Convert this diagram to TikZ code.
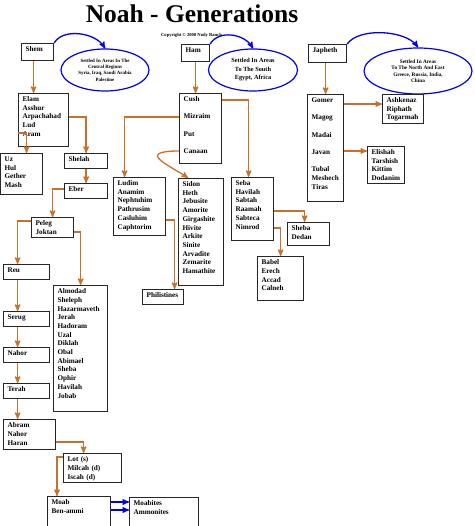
\documentclass[tikz,border=0pt]{standalone}
\usepackage{fontspec}
\setmainfont{Liberation Serif}
\usepackage{tikz}
\usetikzlibrary{arrows,shapes.geometric}
\definecolor{rust}{RGB}{198,114,44}
\definecolor{sky}{RGB}{0,0,235}

\begin{document}
\begin{tikzpicture}[x=1pt, y=1pt, >=stealth']
\useasboundingbox (0,0) rectangle (474,-526);
\tikzstyle{gen} = [draw=black!85, line width=1.2pt, fill=white, anchor=north west, align=left, inner xsep=4pt, inner ysep=2pt, text height=6pt, font=\fontsize{7.2}{8.7}\selectfont\bfseries]
\tikzstyle{area} = [ellipse, draw=sky, line width=1.2pt, fill=white, inner sep=0pt, align=center]
\tikzstyle{descent} = [->, draw=rust, line width=1.3pt]
\tikzstyle{region} = [->, draw=sky, line width=1.3pt]
\node[font=\fontsize{25.5}{28}\selectfont\bfseries, anchor=base] (title) at (192,-23) {Noah - Generations};
\node[font=\fontsize{4.6}{5}\selectfont\bfseries, anchor=base] (copyright) at (191.5,-36.5) {Copyright © 2000 Nody Ranch};
\node[gen, text width=24pt, text depth=7pt] (shem) at (21,-43) {Shem};
\node[gen, text width=20pt, text depth=7pt] (ham) at (181,-44) {Ham};
\node[gen, text width=30pt, text depth=8pt] (japheth) at (308,-44) {Japheth};
\node[area, minimum width=88pt, minimum height=42pt, font=\fontsize{4.9}{6.3}\selectfont\bfseries] (shemarea) at (105,-70) {Settled In Areas In The\\Central Regions\\Syria, Iraq, Saudi Arabia\\Palestine};
\node[area, minimum width=89pt, minimum height=42pt, font=\fontsize{6.3}{8.5}\selectfont\bfseries] (hamarea) at (253,-70) {Settled In Areas\\To The South\\Egypt, Africa};
\node[area, minimum width=108pt, minimum height=46pt, font=\fontsize{5.3}{6.5}\selectfont\bfseries] (japhetharea) at (418,-71) {Settled In Areas\\To The North And East\\Greece, Russia, India,\\China};
\node[gen, text width=42pt, text depth=43pt] (elam) at (18,-93) {Elam\\Asshur\\Arpachahad\\Lud\\Aram};
\node[gen, text width=34pt, text depth=31pt] (uz) at (0,-153) {Uz\\Hul\\Gether\\Mash};
\node[gen, text width=35pt, text depth=5pt] (shelah) at (64,-153) {Shelah};
\node[gen, text width=35pt, text depth=5pt] (eber) at (64,-183) {Eber};
\node[gen, text width=34pt, text depth=10pt] (peleg) at (31,-217) {Peleg\\Joktan};
\node[gen, text width=38pt, text depth=5pt] (reu) at (3,-264) {Reu};
\node[gen, text width=46pt, text depth=116pt] (almodad) at (53,-285) {Almodad\\Sheleph\\Hazarmaveth\\Jerah\\Hadoram\\Uzal\\Diklah\\Obal\\Abimael\\Sheba\\Ophir\\Havilah\\Jobab};
\node[gen, text width=38pt, text depth=5pt] (serug) at (3,-311) {Serug};
\node[gen, text width=38pt, text depth=5pt] (nahor) at (3,-347) {Nahor};
\node[gen, text width=38pt, text depth=5pt] (terah) at (3,-383) {Terah};
\node[gen, text width=44pt, text depth=20pt] (abram) at (3,-419) {Abram\\Nahor\\Haran};
\node[gen, text width=50pt, text depth=19pt] (lot) at (63,-453) {Lot (s)\\Milcah (d)\\Iscah (d)};
\node[gen, text width=55pt, text depth=22pt] (moab) at (47,-496) {Moab\\Ben-ammi};
\node[gen, text width=61pt, text depth=21pt] (moabites) at (129,-497) {Moabites\\Ammonites};
\node[gen, text width=34pt, text depth=60pt] (cush) at (179,-93) {Cush\\[8.6pt]Mizraim\\[8.6pt]Put\\[8.6pt]Canaan};
\node[gen, text width=44pt, text depth=48pt] (ludim) at (113,-177) {Ludim\\Anamim\\Nephtuhim\\Pathrusim\\Casluhim\\Caphtorim};
\node[gen, text width=37pt, text depth=97pt] (sidon) at (178,-178) {Sidon\\Heth\\Jebusite\\Amorite\\Girgashite\\Hivite\\Arkite\\Sinite\\Arvadite\\Zemarite\\Hamathite};
\node[gen, text width=33pt, text depth=5pt] (philistines) at (142,-289) {Philistines};
\node[gen, text width=34pt, text depth=53pt] (seba) at (231,-177) {Seba\\Havilah\\Sabtah\\Raamah\\Sabteca\\Nimrod};
\node[gen, text width=34pt, text depth=13pt] (sheba) at (287,-222) {Sheba\\Dedan};
\node[gen, text width=38pt, text depth=34pt] (babel) at (257,-256) {Babel\\Erech\\Accad\\Calneh};
\node[gen, text width=28pt, text depth=97pt] (gomer) at (307,-94) {Gomer\\[8.6pt]Magog\\[8.6pt]Madai\\[8.6pt]Javan\\[8.6pt]Tubal\\Meshech\\Tiras};
\node[gen, text width=33pt, text depth=19pt] (ashkenaz) at (382,-94) {Ashkenaz\\Riphath\\Togarmah};
\node[gen, text width=29pt, text depth=27pt] (elishah) at (367,-146) {Elishah\\Tarshish\\Kittim\\Dodanim};
\draw[region] (shem.north east) to[out=60, in=120, looseness=0.9] (shemarea.north);
\draw[region] (ham.north east) to[out=60, in=120] (hamarea.north);
\draw[region] (japheth.north east) to[out=55, in=125, looseness=0.75] (japhetharea.north);
\draw[descent] ([xshift=-4]shem.south) -- ([xshift=-10]elam.north);
\draw[descent] (ham.south) -- (ham.south |- cush.north);
\draw[descent] (gomer.north |- japheth.south) -- (gomer.north);
\draw[descent] ([yshift=-40]elam.north west) -| ([xshift=5]uz.north);
\draw[descent] ([yshift=-24]elam.north east) -| (shelah.north);
\draw[descent] (shelah) -- (eber);
\draw[descent] ([yshift=-6]eber.north west) -| (peleg.north);
\draw[descent] ([yshift=-4]peleg.north west) -| ([xshift=-9]reu.north);
\draw[descent] ([yshift=-15]peleg.north east) -| (almodad.north);
\draw[descent] ([xshift=-9]reu.south) -- ([xshift=-9]serug.north);
\draw[descent] ([xshift=-9]serug.south) -- ([xshift=-9]nahor.north);
\draw[descent] ([xshift=-9]nahor.south) -- ([xshift=-9]terah.north);
\draw[descent] ([xshift=-9]terah.south) -- ([xshift=-12]abram.north);
\draw[descent] ([yshift=-23]abram.north east) -| ([xshift=-9]lot.north);
\draw[descent] ([yshift=-4]lot.north west) -| ([xshift=10]moab.north west);
\draw[region] ([yshift=-6]moab.north east) -- ([yshift=-5]moabites.north west);
\draw[region] ([yshift=-14]moab.north east) -- ([yshift=-13]moabites.north west);
\draw[descent] ([yshift=-7]cush.north east) -| ([xshift=-4]seba.north);
\draw[descent] ([yshift=-24]cush.north west) -| ([xshift=-15]ludim.north);
\draw[descent] ([yshift=-58]cush.north west) to[out=180, in=145, out distance=45pt, in distance=20pt] ([xshift=-13]sidon.north);
\draw[descent] ([yshift=-43]ludim.north east) -| ([xshift=11.5]philistines.north);
\draw[descent] ([yshift=-34]seba.north east) -| ([xshift=-4]sheba.north);
\draw[descent] ([yshift=-51]seba.north east) -| (babel.north);
\draw[descent] ([yshift=-10]gomer.north east) -- ([yshift=-10]ashkenaz.north west);
\draw[descent] ([yshift=-57]gomer.north east) -- ([yshift=-5]elishah.north west);
\end{tikzpicture}
\end{document}
